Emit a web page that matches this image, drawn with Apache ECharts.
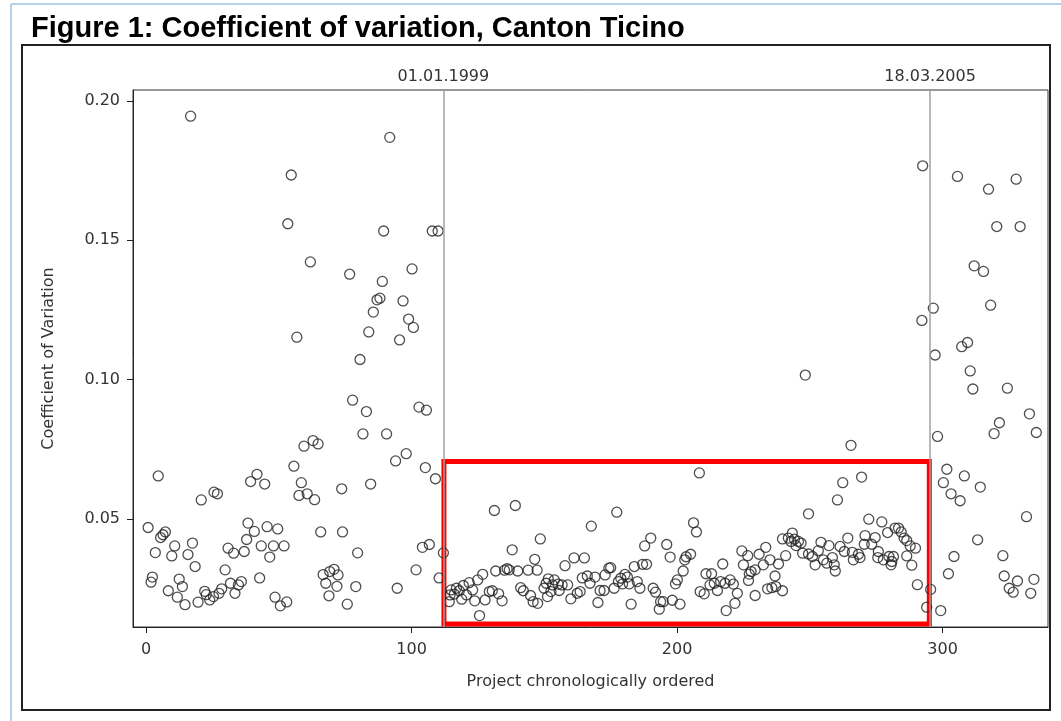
<!DOCTYPE html>
<html>
<head>
<meta charset="utf-8">
<title>Coefficient of variation, Canton Ticino</title>
<script src="https://cdn.jsdelivr.net/npm/echarts@6.0.0/dist/echarts.min.js"></script>
<style>
  html, body { margin: 0; padding: 0; background: #fff; }
  #chart { width: 1061px; height: 721px; }
</style>
</head>
<body>
<div id="chart"></div>
<script>
  // [project number, coefficient of variation]
  var pointsBefore1999 = [
    [16.8, 0.1945], [91.8, 0.1869], [54.7, 0.1734], [53.4, 0.1559], [89.5, 0.1533], [107.8, 0.1533], [110, 0.1533],
    [61.9, 0.1422], [76.7, 0.1378], [100.2, 0.1397], [89, 0.1352], [87, 0.1286], [88.1, 0.1292], [96.8, 0.1282],
    [85.6, 0.1242], [98.9, 0.1217], [100.7, 0.1187], [83.9, 0.1171], [56.8, 0.1152], [95.5, 0.1142], [80.6, 0.1072],
    [77.8, 0.0926], [83, 0.0885], [102.8, 0.0901], [105.6, 0.089], [81.7, 0.0805], [90.6, 0.0805],
    [59.5, 0.0761], [62.9, 0.0781], [64.8, 0.0769], [55.7, 0.0689], [4.6, 0.0654], [41.8, 0.066], [39.4, 0.0634],
    [44.7, 0.0625], [58.5, 0.063], [57.6, 0.0584], [60.7, 0.059], [63.5, 0.0569], [73.7, 0.0608], [20.8, 0.0568],
    [25.6, 0.0596], [26.9, 0.059], [65.8, 0.0453], [74, 0.0453], [0.8, 0.0469], [7.3, 0.0453], [6.4, 0.0443],
    [5.5, 0.0433], [38.4, 0.0485], [40.8, 0.0455], [45.6, 0.0472], [49.6, 0.0464], [37.9, 0.0426], [10.8, 0.0403],
    [17.5, 0.0413], [3.5, 0.0379], [9.7, 0.0367], [15.8, 0.0372], [30.9, 0.0395], [33, 0.0377], [37, 0.0383],
    [43.4, 0.0403], [48, 0.0403], [52, 0.0403], [46.6, 0.0363], [18.5, 0.0329], [29.8, 0.0317], [2.4, 0.0291],
    [1.9, 0.0273], [12.5, 0.0284], [13.7, 0.0257], [8.4, 0.0242], [11.8, 0.0219], [14.7, 0.0192], [19.6, 0.0201],
    [22.1, 0.024], [22.7, 0.0228], [24, 0.0209], [25.4, 0.0221], [27.5, 0.0233], [28.5, 0.0249], [31.8, 0.0269],
    [33.5, 0.0233], [34.8, 0.0263], [35.9, 0.0275], [42.8, 0.0288], [48.6, 0.0219], [50.6, 0.0188], [53, 0.0202],
    [66.7, 0.03], [69.2, 0.0311], [70.8, 0.0319], [72.3, 0.0299], [67.7, 0.0269], [71.9, 0.0258], [68.9, 0.0224],
    [94, 0.0708], [98, 0.0734], [105.2, 0.0684], [109, 0.0644], [84.6, 0.0625], [79.7, 0.0378], [104.1, 0.0398],
    [106.7, 0.0408], [101.7, 0.0317], [110.4, 0.0288], [79, 0.0257], [75.8, 0.0194], [94.6, 0.0251]
  ]

  var points1999to2005 = [
    [112, 0.0378], [131.2, 0.053], [139.1, 0.0548], [137.9, 0.0389], [146.4, 0.0355], [148.5, 0.0428], [131.7, 0.0313],
    [135, 0.0316], [136, 0.0321], [136.8, 0.0317], [140, 0.0313], [143.9, 0.0316], [147.3, 0.0316], [126.8, 0.0301],
    [124.9, 0.0281], [121.7, 0.0271], [119.5, 0.0261], [116.9, 0.0251], [114.9, 0.0245], [114.5, 0.0227], [114.2, 0.0203],
    [116.1, 0.023], [118, 0.0242], [118.9, 0.0212], [120.7, 0.0227], [123, 0.0245], [123.8, 0.0206], [127.7, 0.0209],
    [129.3, 0.0239], [130.4, 0.0242], [132.8, 0.0231], [134.1, 0.0206], [125.6, 0.0153], [141.1, 0.0253], [142.1, 0.0242],
    [144.8, 0.0225], [145.8, 0.0203], [147.5, 0.0197],
    [208.4, 0.0665], [177.3, 0.0524], [167.7, 0.0474], [206.2, 0.0486], [207.3, 0.0453], [190.1, 0.0431], [187.8, 0.0403],
    [196.1, 0.0408], [197.4, 0.0363], [205.1, 0.0373], [203.4, 0.0364], [202.9, 0.0353], [202.3, 0.0313], [157.8, 0.0332],
    [161.2, 0.036], [165.1, 0.036], [151.5, 0.0285], [153.8, 0.0281], [150.7, 0.0269], [153.1, 0.0263], [155.2, 0.0266],
    [156.7, 0.0263], [158.8, 0.0263], [149.9, 0.0251], [152.5, 0.0239], [155.6, 0.0243], [151.2, 0.0221], [160, 0.0213],
    [162.4, 0.0233], [163.5, 0.0239], [164.3, 0.0288], [166.2, 0.0295], [169.1, 0.0291], [167.2, 0.0269], [170.2, 0.02],
    [171, 0.0243], [172.5, 0.0243], [172.9, 0.0299], [174.3, 0.0323], [175, 0.0325], [176.3, 0.0251], [177.9, 0.0275],
    [178.8, 0.0287], [180.4, 0.0301], [181.3, 0.0291], [179.5, 0.0267], [182, 0.0267], [182.7, 0.0194], [183.9, 0.0329],
    [187, 0.0337], [188.5, 0.0337], [185, 0.0275], [186, 0.0251], [191, 0.0251], [191.9, 0.0237], [193.8, 0.0203],
    [194.8, 0.0203], [193.3, 0.0176], [198.2, 0.0208], [201.1, 0.0194], [199.4, 0.0267], [200.1, 0.0281], [208.7, 0.0239],
    [210.2, 0.0231], [210.9, 0.0303], [213, 0.0303], [212.4, 0.0263], [214, 0.0269], [215.2, 0.0243], [217.2, 0.0338],
    [216.4, 0.0275], [218.1, 0.0269], [220, 0.0281], [221.2, 0.0266], [222.7, 0.0233], [218.5, 0.0171], [221.8, 0.0197],
    [248.3, 0.1016], [265.5, 0.0764], [262.4, 0.063], [269.5, 0.065], [260.4, 0.0568], [249.5, 0.0518], [272.2, 0.0499],
    [277.1, 0.0489], [279.3, 0.0451], [282.1, 0.0467], [283.4, 0.0467], [284.4, 0.0453], [285.5, 0.0431], [286.5, 0.0422],
    [287.8, 0.0403], [289.8, 0.0395], [286.5, 0.0367], [288.4, 0.0334], [290.5, 0.0264], [294, 0.0183], [292.5, 0.1767],
    [292.2, 0.1212],
    [224.4, 0.0385], [226.6, 0.0368], [225, 0.0335], [233.4, 0.0398], [230.9, 0.0373], [235, 0.0353], [232.5, 0.0335],
    [238.2, 0.0338], [240.9, 0.0368], [229.4, 0.0317], [227.9, 0.0311], [227.2, 0.0302], [226.9, 0.0279], [236.9, 0.0295],
    [229.4, 0.0225], [234.1, 0.0249], [235.7, 0.0253], [237.2, 0.0257], [239.7, 0.0242], [239.7, 0.0428], [241.9, 0.0431],
    [243.4, 0.0449], [244.2, 0.0427], [242.9, 0.0419], [245.7, 0.0419], [244.8, 0.0404], [246.7, 0.0413], [247.3, 0.0377],
    [249.5, 0.0374], [251, 0.0365], [253.2, 0.0386], [254.2, 0.0416], [252, 0.0335], [255.1, 0.0353], [256.4, 0.0341],
    [257.2, 0.0404], [258.5, 0.0361], [259.2, 0.0335], [259.6, 0.0313], [261.4, 0.0401], [264.3, 0.0431], [263, 0.0383],
    [266, 0.038], [266.4, 0.0353], [268.3, 0.0373], [268.9, 0.0361], [270.8, 0.044], [270.5, 0.0409], [273.3, 0.0409],
    [274.6, 0.0433], [275.8, 0.0383], [275.6, 0.0361], [277.7, 0.0353], [279.8, 0.0365], [280.9, 0.0347], [281.5, 0.0365],
    [280.6, 0.0335]
  ]

  var pointsAfter2005 = [
    [295.5, 0.0247], [305.6, 0.1729], [317.3, 0.1683], [327.7, 0.1719], [320.4, 0.1549], [329.2, 0.1549], [311.9, 0.1408],
    [315.4, 0.1388], [296.5, 0.1256], [318.1, 0.1267], [309.4, 0.1133], [307.2, 0.1118], [297.2, 0.1088], [310.4, 0.1031],
    [311.4, 0.0966], [324.4, 0.0969], [332.7, 0.0877], [321.4, 0.0845], [319.4, 0.0806], [335.3, 0.081], [298.1, 0.0796],
    [301.6, 0.0678], [308.2, 0.0654], [300.3, 0.063], [314.2, 0.0614], [303.2, 0.059], [306.6, 0.0565], [331.6, 0.0508],
    [313.2, 0.0425], [304.3, 0.0365], [322.7, 0.0368], [302.2, 0.0303], [323.2, 0.0295], [328.2, 0.0277], [334.4, 0.0283],
    [325.1, 0.0251], [326.6, 0.0237], [333.2, 0.0233], [299.3, 0.0171]
  ]

  var xTicks = [0, 100, 200, 300]
  var yTicks = [0.05, 0.10, 0.15, 0.20]
  var cutLabels = ['01.01.1999', '18.03.2005']
  var cutPositions = [112, 295.3]
  // red box: project range and CV range
  var boxX = [112.2, 295]
  var boxY = [0.0123, 0.0706]

  var font = 'DejaVu Sans'
  var textColor = '#333'

  var myChart = echarts.init(document.getElementById('chart'), null, { renderer: 'canvas' })

  var option = {
    animation: false,
    backgroundColor: '#fff',
    title: {
      text: 'Figure 1: Coefficient of variation, Canton Ticino',
      left: 26,
      top: 9,
      textStyle: {
        fontFamily: 'Liberation Sans',
        fontWeight: 'bold',
        fontSize: 29,
        color: '#000'
      }
    },
    graphic: [
      { type: 'line', shape: { x1: 11, y1: 4, x2: 1061, y2: 4 }, style: { stroke: '#9dc3e6', lineWidth: 1.5 } },
      { type: 'line', shape: { x1: 11, y1: 4, x2: 11, y2: 721 }, style: { stroke: '#9dc3e6', lineWidth: 1.5 } },
      { type: 'rect', shape: { x: 22, y: 45, width: 1028, height: 665 }, style: { fill: null, stroke: '#222', lineWidth: 2 } }
    ],
    grid: {
      left: 133,
      top: 90,
      right: 13,
      bottom: 94,
      show: true,
      borderColor: '#333',
      borderWidth: 1
    },
    xAxis: {
      type: 'value',
      min: -4.9,
      max: 339.7,
      name: 'Project chronologically ordered',
      nameLocation: 'middle',
      nameGap: 47,
      nameTextStyle: { fontFamily: font, fontSize: 16, color: textColor },
      axisLine: { show: true, onZero: false, lineStyle: { color: '#222', width: 1 } },
      axisTick: { show: true, length: 6, customValues: xTicks, lineStyle: { color: '#222' } },
      axisLabel: { customValues: xTicks, margin: 15, fontFamily: font, fontSize: 16, color: textColor },
      splitLine: { show: false }
    },
    yAxis: {
      type: 'value',
      min: 0.0112,
      max: 0.2039,
      name: 'Coefficient of Variation',
      nameLocation: 'middle',
      nameGap: 76,
      nameRotate: 90,
      nameTextStyle: { fontFamily: font, fontSize: 16, color: textColor },
      axisLine: { show: true, onZero: false, lineStyle: { color: '#222', width: 1 } },
      axisTick: { show: true, length: 6, customValues: yTicks, lineStyle: { color: '#222' } },
      axisLabel: {
        customValues: yTicks,
        margin: 13,
        fontFamily: font,
        fontSize: 16,
        color: textColor,
        formatter: function (v) { return v.toFixed(2) }
      },
      splitLine: { show: false }
    },
    series: [
      {
        type: 'scatter',
        data: pointsBefore1999.concat(points1999to2005, pointsAfter2005),
        symbol: 'circle',
        symbolSize: 10,
        itemStyle: { color: 'rgba(0,0,0,0)', borderColor: '#222', borderWidth: 1.3 },
        markLine: {
          silent: true,
          symbol: ['none', 'none'],
          lineStyle: { color: '#a0a0a0', width: 1.5, type: 'solid' },
          label: {
            show: true,
            position: 'end',
            distance: 5,
            formatter: '{b}',
            fontFamily: font,
            fontSize: 16,
            color: textColor
          },
          data: cutPositions.map(function (x, i) { return { name: cutLabels[i], xAxis: x } })
        }
      },
      {
        type: 'scatter',
        data: [],
        z: 10,
        markArea: {
          silent: true,
          itemStyle: { color: 'rgba(0,0,0,0)', borderColor: '#ff0000', borderWidth: 5 },
          data: [[{ xAxis: boxX[0], yAxis: boxY[1] }, { xAxis: boxX[1], yAxis: boxY[0] }]]
        }
      }
    ]
  }
  myChart.setOption(option)
</script>
</body>
</html>
